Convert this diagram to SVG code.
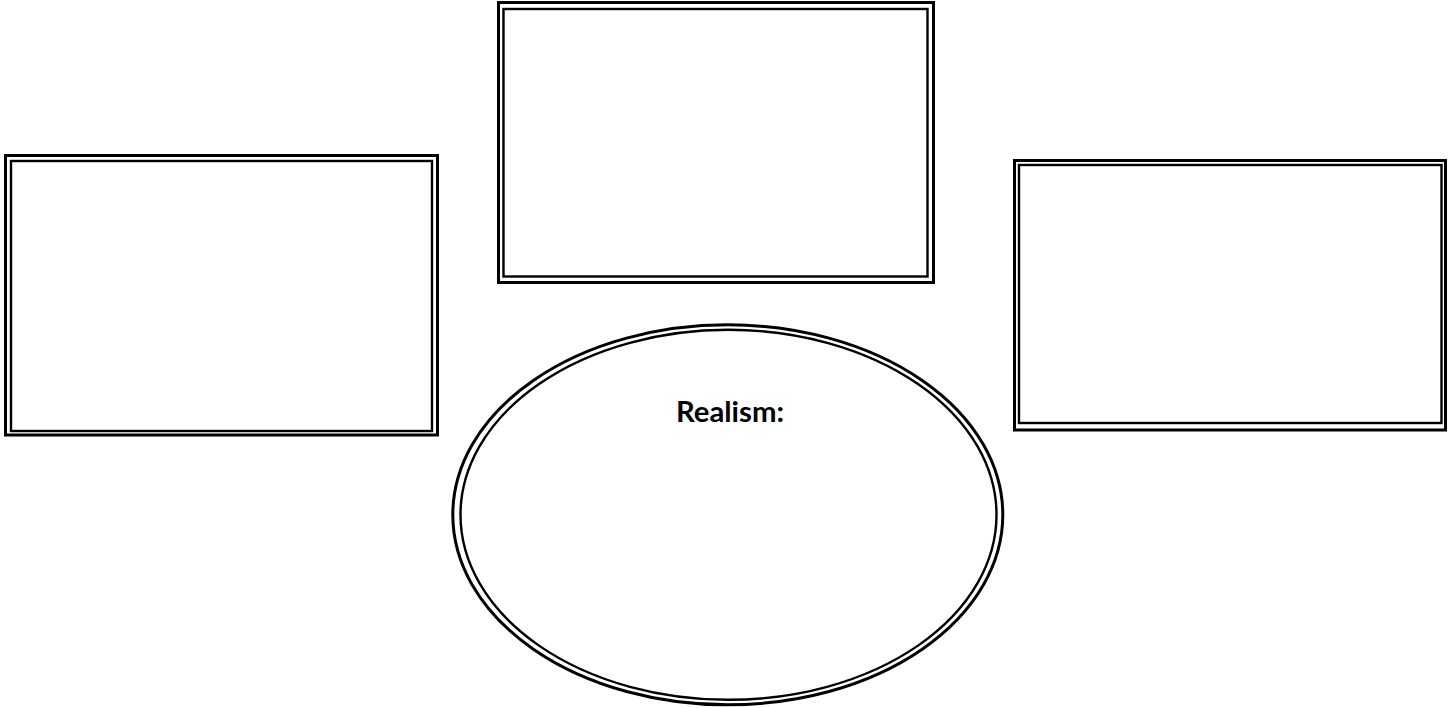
<svg xmlns="http://www.w3.org/2000/svg" width="1453" height="708" viewBox="0 0 1453 708">
<style>
.o{fill:none;stroke:#000;stroke-width:3}
.i{fill:none;stroke:#000;stroke-width:2.4}
.t{font-family:Lato,"Liberation Sans",sans-serif;font-weight:bold;font-size:28px;fill:#000}
</style>
<rect width="1453" height="708" fill="#fff"/>
<g id="box-left">
<rect class="o" x="5.5" y="155.5" width="432" height="279.5"/>
<rect class="i" x="11" y="161" width="421" height="270"/>
</g>
<g id="box-top">
<rect class="o" x="498.5" y="2.5" width="435" height="280"/>
<rect class="i" x="503.5" y="9" width="424" height="267.5"/>
</g>
<g id="box-right">
<rect class="o" x="1014.5" y="160.5" width="431" height="269.5"/>
<rect class="i" x="1019" y="165" width="422.5" height="258"/>
</g>
<g id="ellipse-center">
<ellipse class="o" cx="727.8" cy="514.8" rx="275" ry="190"/>
<ellipse class="i" cx="728.5" cy="514.8" rx="268" ry="185"/>
<text class="t" x="730" y="422" text-anchor="middle" textLength="108" lengthAdjust="spacingAndGlyphs">Realism:</text>
</g>
<g id="connectors"></g>
</svg>
